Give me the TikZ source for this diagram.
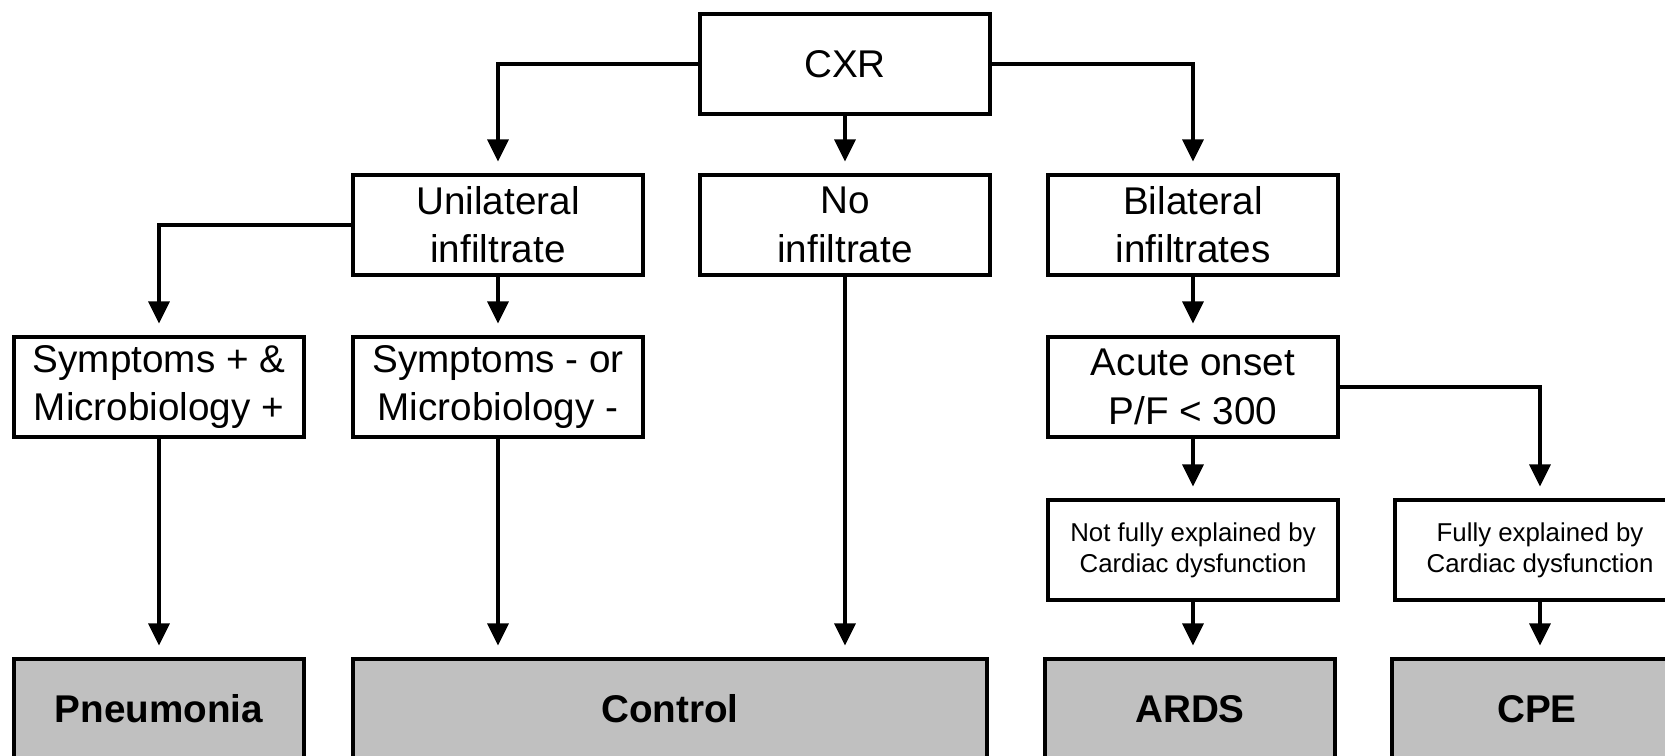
\documentclass[tikz,border=0pt]{standalone}
\usepackage{fontspec}
\setmainfont{Liberation Sans}
\usepackage{tikz}
\usetikzlibrary{arrows.meta}

\definecolor{outgray}{RGB}{192,192,192}
\tikzset{
  box/.style={draw, line width=1.8pt, minimum width=5.8cm, minimum height=2cm,
    align=center, inner sep=0pt, font=\fontsize{22}{27.5}\selectfont},
  smallbox/.style={box, font=\fontsize{14.7}{17.5}\selectfont},
  outbox/.style={box, fill=outgray, font=\fontsize{22}{27.5}\selectfont\bfseries},
  flow/.style={->, line width=1.8pt, shorten >=0.24cm}
}

\begin{document}
\begin{tikzpicture}[x=0.02cm, y=-0.02cm, >={Triangle[length=0.44cm, width=0.42cm]}]
      \clip (0, 0) rectangle (1665, 755);
      \node[box] (cxr) at (845, 64) {CXR};
      \node[box] (uni) at (498, 225) {Unilateral\\infiltrate};
      \node[box] (noinf) at (845, 225) {No\\infiltrate};
      \node[box] (bilat) at (1193, 225) {Bilateral\\infiltrates};
      \node[box] (symplus) at (159, 387) {Symptoms + \&\\Microbiology +};
      \node[box] (sympminus) at (498, 387) {Symptoms - or\\Microbiology -};
      \node[box] (acute) at (1193, 387) {Acute onset\\P/F < 300};
      \node[smallbox] (notfully) at (1193, 550) {Not fully explained by\\Cardiac dysfunction};
      \node[smallbox] (fully) at (1540, 550) {Fully explained by\\Cardiac dysfunction};
      \node[outbox] (pneu) at (159, 709) {Pneumonia};
      \node[outbox, minimum width=12.68cm] (control) at (670, 709) {Control};
      \node[outbox] (ards) at (1190, 709) {ARDS};
      \node[outbox] (cpe) at (1537, 709) {CPE};
      % first split
      \draw[flow] (cxr) -| (uni);
      \draw[flow] (cxr) -- (noinf);
      \draw[flow] (cxr) -| (bilat);
      % unilateral side
      \draw[flow] (uni) -| (symplus);
      \draw[flow] (uni) -- (sympminus);
      \draw[flow] (symplus) -- (pneu);
      \draw[flow] (sympminus) -- (sympminus |- control.north);
      \draw[flow] (noinf) -- (noinf |- control.north);
      % bilateral side
      \draw[flow] (bilat) -- (acute);
      \draw[flow] (acute) -- (notfully);
      \draw[flow] (acute) -| (fully);
      \draw[flow] (notfully) -- (notfully |- ards.north);
      \draw[flow] (fully) -- (fully |- cpe.north);
    \end{tikzpicture}
\end{document}
